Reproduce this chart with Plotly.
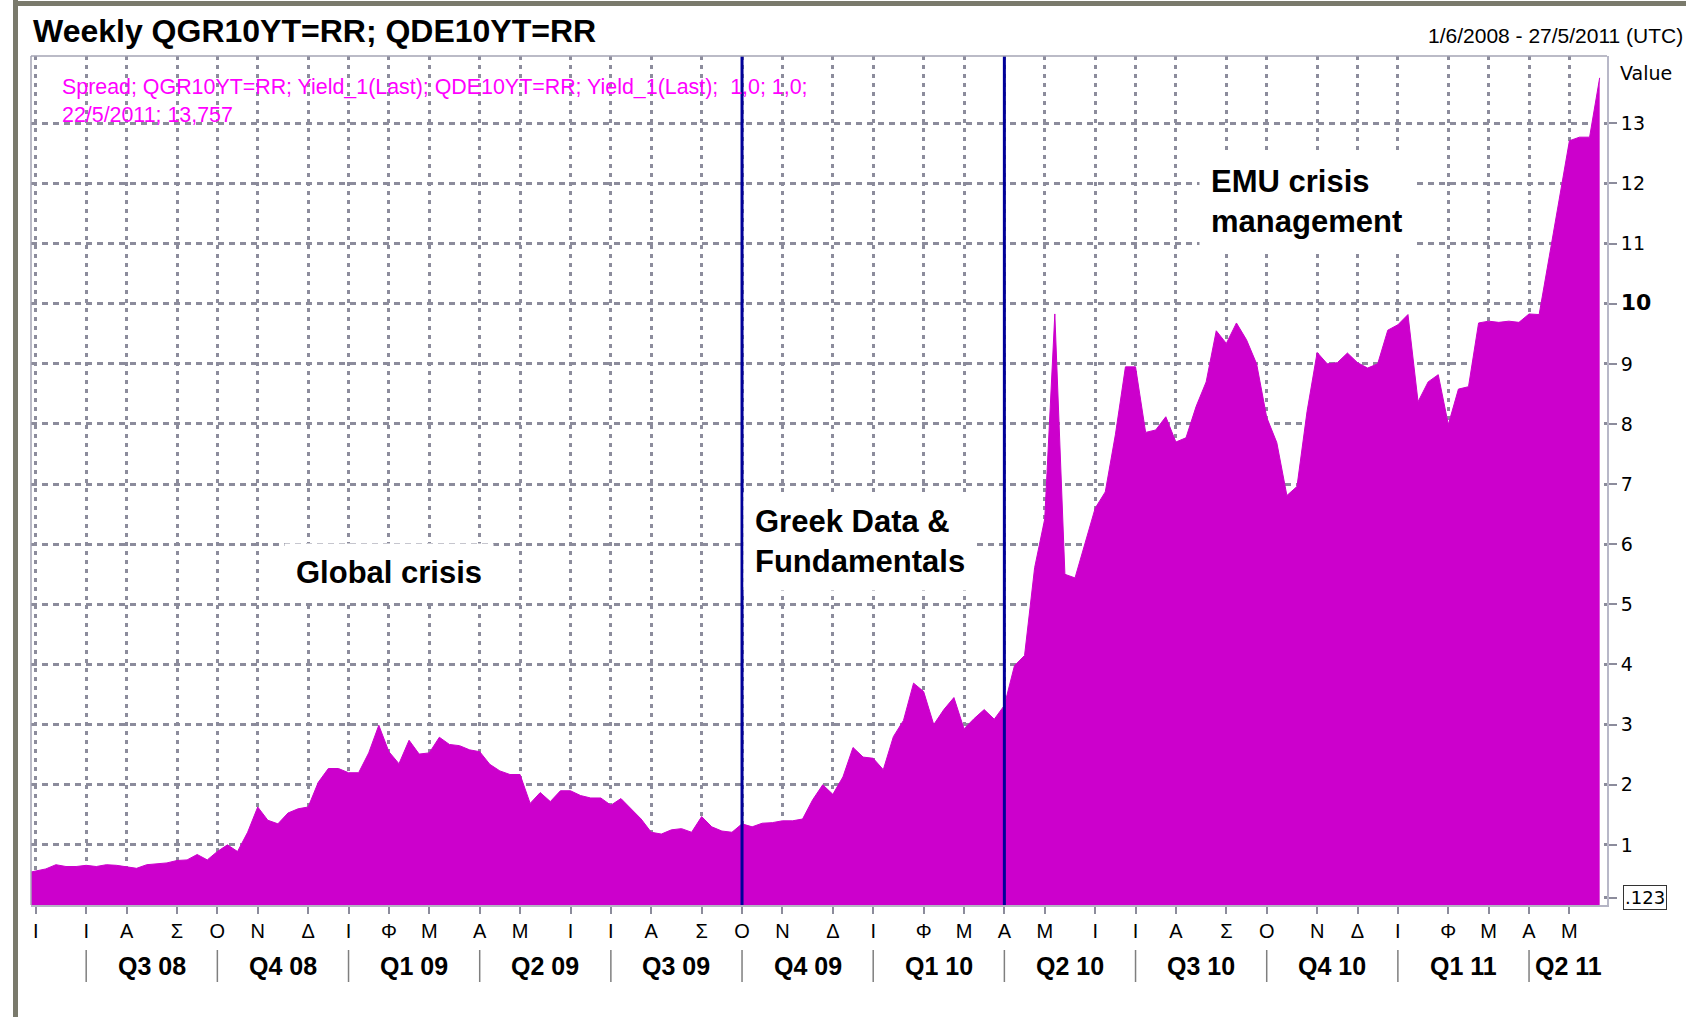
import pandas as pd
import plotly.graph_objects as go

# ---------------- data ----------------
# Weekly spread QGR10YT - QDE10YT (percentage points), weeks starting 25/5/2008
SPREAD = [
    0.53, 0.57, 0.60, 0.67, 0.64, 0.64, 0.66, 0.64, 0.67, 0.66,
    0.64, 0.61, 0.67, 0.68, 0.70, 0.74, 0.75, 0.84, 0.75, 0.89,
    1.00, 0.89, 1.21, 1.63, 1.41, 1.35, 1.53, 1.60, 1.63, 2.04,
    2.27, 2.27, 2.20, 2.20, 2.53, 2.99, 2.55, 2.35, 2.74, 2.51,
    2.53, 2.79, 2.67, 2.65, 2.58, 2.55, 2.34, 2.23, 2.17, 2.17,
    1.69, 1.87, 1.72, 1.90, 1.90, 1.82, 1.78, 1.78, 1.66, 1.77,
    1.60, 1.43, 1.21, 1.18, 1.25, 1.27, 1.21, 1.47, 1.30, 1.23,
    1.21, 1.35, 1.30, 1.36, 1.37, 1.40, 1.40, 1.43, 1.75, 2.00,
    1.84, 2.13, 2.62, 2.46, 2.44, 2.25, 2.80, 3.07, 3.69, 3.55,
    3.00, 3.25, 3.45, 2.93, 3.10, 3.25, 3.09, 3.32, 3.98, 4.15,
    5.61, 6.42, 9.83, 5.50, 5.44, 6.01, 6.60, 6.87, 7.82, 8.95,
    8.95, 7.86, 7.90, 8.12, 7.70, 7.77, 8.29, 8.70, 9.55, 9.34,
    9.68, 9.40, 9.00, 8.11, 7.69, 6.81, 6.96, 8.21, 9.19, 9.00,
    9.02, 9.18, 9.02, 8.93, 9.00, 9.56, 9.65, 9.82, 8.37, 8.70,
    8.82, 7.99, 8.58, 8.62, 9.68, 9.71, 9.69, 9.71, 9.69, 9.83,
    9.82, 10.78, 11.75, 12.71, 12.77, 12.77, 13.757,
]
FIRST_WEEK = "2008-05-25"
X_RANGE = ["2008-05-28 17:00", "2011-05-27 02:00"]
Y_RANGE = [0, 14.12]

MONTH_INITIALS = ["Ι", "Φ", "Μ", "Α", "Μ", "Ι", "Ι", "Α", "Σ", "Ο", "Ν", "Δ"]
Y_TICKS = [1, 2, 3, 4, 5, 6, 7, 8, 9, 10, 11, 12, 13]
Y_TICK_TEXT = ["1", "2", "3", "4", "5", "6", "7", "8", "9",
               "<b><span style='font-size:22px'>10</span></b>", "11", "12", "13"]
MIN_VALUE_LABEL = 0.123
EVENT_DATES = ["2009-10-04", "2010-04-04"]

TITLE = "Weekly QGR10YT=RR; QDE10YT=RR"
DATE_RANGE_TEXT = "1/6/2008 - 27/5/2011 (UTC)"
LEGEND_TEXT = ("Spread; QGR10YT=RR; Yield_1(Last); QDE10YT=RR; Yield_1(Last);  1,0; 1,0;"
               "<br>22/5/2011; 13,757")
PHASES = ["Global crisis", "Greek Data &<br>Fundamentals", "EMU crisis<br>management"]

# ---------------- derived ----------------
dates = pd.date_range(FIRST_WEEK, periods=len(SPREAD), freq="7D")
range_start = pd.Timestamp(X_RANGE[0])
range_end = pd.Timestamp(X_RANGE[1])

month_ticks = []
seen = set()
for d in dates:
    key = (d.year, d.month)
    if key not in seen:
        seen.add(key)
        if d >= range_start:
            month_ticks.append(d)
month_text = [MONTH_INITIALS[d.month - 1] for d in month_ticks]

quarter_starts = [d for d in month_ticks if d.month in (1, 4, 7, 10)]
bounds = quarter_starts + [range_end]
quarters = []
for a, b in zip(bounds[:-1], bounds[1:]):
    q = (a.month - 1) // 3 + 1
    quarters.append((a + (b - a) / 2, f"Q{q} {a.year % 100:02d}"))

# ---------------- figure ----------------
W, H = 1686, 1017
ML, MR, MT, MB = 31, 79, 56, 112
PW, PH = W - ML - MR, H - MT - MB


def px(x):
    return (x - ML) / PW


def py(y):
    return (H - MB - y) / PH


FILL = "#cc00cc"
GRID = "#8c8c9c"
LAB = "Liberation Sans, Arial, sans-serif"

fig = go.Figure()
fig.add_trace(go.Scatter(
    x=dates, y=SPREAD, mode="lines",
    line=dict(color=FILL, width=1),
    fill="tozeroy", fillcolor=FILL,
    hoverinfo="skip", showlegend=False,
))

shapes = []
# event markers
for d in EVENT_DATES:
    shapes.append(dict(type="line", xref="x", yref="paper", x0=d, x1=d, y0=0, y1=1,
                       line=dict(color="#000099", width=3), layer="above"))
# quarter separators
for d in quarter_starts:
    shapes.append(dict(type="line", xref="x", yref="paper", x0=d, x1=d,
                       y0=py(950), y1=py(982), line=dict(color="#7f7f7f", width=1.5)))
# plot frame (top / left)
shapes.append(dict(type="line", xref="paper", yref="paper", x0=0, x1=1, y0=1, y1=1,
                   line=dict(color="#a4a4b4", width=1.5)))
shapes.append(dict(type="line", xref="paper", yref="paper", x0=0, x1=0, y0=0, y1=1,
                   line=dict(color="#a4a4b4", width=1.5), layer="above"))
# outer window border
shapes.append(dict(type="line", xref="paper", yref="paper", x0=px(15.5), x1=px(15.5),
                   y0=py(H + 2), y1=py(0), line=dict(color="#7a7a6c", width=5)))
shapes.append(dict(type="line", xref="paper", yref="paper", x0=px(13), x1=px(W + 2),
                   y0=py(3.5), y1=py(3.5), line=dict(color="#7a7a6c", width=5)))

annotations = []
annotations.append(dict(text=f"<b>{TITLE}</b>", xref="paper", yref="paper",
                        x=px(31), y=py(31), xanchor="left", yanchor="middle",
                        showarrow=False, font=dict(family=LAB, size=32, color="black")))
annotations.append(dict(text=DATE_RANGE_TEXT, xref="paper", yref="paper",
                        x=px(1685), y=py(35), xanchor="right", yanchor="middle",
                        showarrow=False, font=dict(family=LAB, size=21, color="black")))
annotations.append(dict(text="Value", xref="paper", yref="paper",
                        x=px(1646), y=py(73), xanchor="center", yanchor="middle",
                        showarrow=False, font=dict(family="DejaVu Sans", size=19, color="black")))
annotations.append(dict(text=LEGEND_TEXT, xref="paper", yref="paper", align="left",
                        x=px(60), y=py(100.5), xanchor="left", yanchor="middle",
                        showarrow=False, font=dict(family=LAB, size=21.4, color="#ff00ff")))
annotations.append(dict(text=".123", xref="paper", yref="y", x=px(1623), y=MIN_VALUE_LABEL,
                        xanchor="left", yanchor="middle", showarrow=False,
                        bordercolor="#333333", borderwidth=1, borderpad=1, bgcolor="white",
                        font=dict(family="DejaVu Sans", size=18, color="black")))
# phase labels
phase_pos = [(px(389), py(572), "center"), (px(743), py(541.5), "left"),
             (px(1199), py(201.5), "left")]
for txt, (x, y, anc) in zip(PHASES, phase_pos):
    annotations.append(dict(text=f"<b>{txt}</b>", xref="paper", yref="paper", x=x, y=y,
                            xanchor=anc, yanchor="middle", align="left", showarrow=False,
                            bgcolor="white", borderpad=11,
                            font=dict(family=LAB, size=31, color="black")))
# quarter labels
for mid, label in quarters:
    annotations.append(dict(text=f"<b>{label}</b>", xref="x", yref="paper", x=mid,
                            y=py(966), xanchor="center", yanchor="middle", showarrow=False,
                            font=dict(family=LAB, size=25, color="black")))

fig.update_layout(
    width=W, height=H,
    margin=dict(l=ML, r=MR, t=MT, b=MB, pad=0),
    paper_bgcolor="white", plot_bgcolor="white",
    showlegend=False,
    shapes=shapes, annotations=annotations,
    xaxis=dict(
        type="date", range=X_RANGE,
        tickmode="array", tickvals=month_ticks, ticktext=month_text,
        ticks="outside", ticklen=7, tickwidth=2, tickcolor=GRID,
        tickfont=dict(family=LAB, size=20, color="black"),
        showgrid=True, gridcolor=GRID, gridwidth=3, griddash="4px,5px",
        showline=True, linecolor="#b4b4c4", linewidth=2,
        zeroline=False, fixedrange=True,
    ),
    yaxis=dict(
        side="right", range=Y_RANGE,
        tickmode="array", tickvals=Y_TICKS + [MIN_VALUE_LABEL], ticktext=Y_TICK_TEXT + [""],
        ticks="outside", ticklen=8, tickwidth=2, tickcolor=GRID,
        tickfont=dict(family="DejaVu Sans", size=19, color="black"),
        showgrid=True, gridcolor=GRID, gridwidth=2.5, griddash="6px,5px",
        showline=True, linecolor="#b8b8c8", linewidth=2,
        zeroline=False, fixedrange=True,
    ),
)

fig.write_html("out.html", config={"displayModeBar": False},
               post_script="document.body.style.margin='0';document.body.style.overflow='hidden';")
